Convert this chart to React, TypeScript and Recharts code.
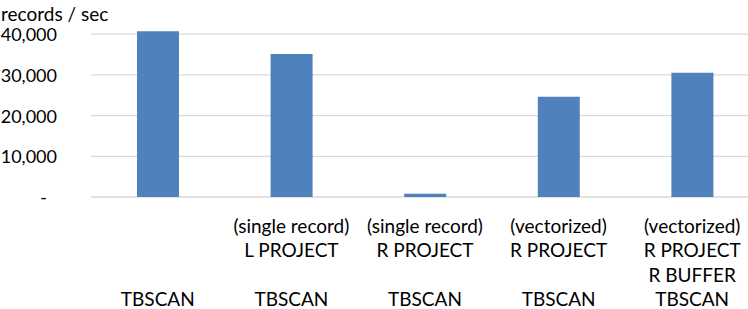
import { Bar, BarChart, CartesianGrid, XAxis, YAxis } from "recharts";

// each label has 4 slots, TBSCAN always sits in the last one
const categories = [
  "\n\n\nTBSCAN",
  "(single record)\nL PROJECT\n\nTBSCAN",
  "(single record)\nR PROJECT\n\nTBSCAN",
  "(vectorized)\nR PROJECT\n\nTBSCAN",
  "(vectorized)\nR PROJECT\nR BUFFER\nTBSCAN",
];
const recordsPerSec = [40700, 35100, 800, 24600, 30500];
const yTicks = [0, 10000, 20000, 30000, 40000];

const chartData = categories.map((name, i) => ({ name, value: recordsPerSec[i] }));

const FONT = "Lato, 'Open Sans', sans-serif";
const TEXT = "#000000";

function YTick(props: any) {
  const { y, payload } = props;
  const isZero = payload.value === 0;
  return (
    <text
      x={isZero ? 47 : 57}
      y={y}
      textAnchor="end"
      dominantBaseline="central"
      fontFamily={FONT}
      fontSize={18}
      fill={TEXT}
    >
      {isZero ? "-" : payload.value.toLocaleString("en-US")}
    </text>
  );
}

function XTick(props: any) {
  const { x, payload } = props;
  const lines = String(payload.value).split("\n");
  return (
    <g>
      {lines.map((line: string, i: number) =>
        line ? (
          <text
            key={i}
            x={x}
            y={225 + i * 24.5}
            textAnchor="middle"
            dominantBaseline="central"
            fontFamily={FONT}
            fontSize={19}
            fill={TEXT}
          >
            {line}
          </text>
        ) : null
      )}
    </g>
  );
}

export default function App() {
  return (
    <div
      style={{
        position: "absolute",
        left: 0,
        top: 0,
        width: 748,
        height: 309,
        overflow: "hidden",
        background: "#fff",
      }}
    >
      <div
        style={{
          position: "absolute",
          left: 1,
          top: 2,
          fontFamily: FONT,
          fontSize: 19,
          lineHeight: "24px",
          color: TEXT,
          whiteSpace: "nowrap",
        }}
      >
        records / sec
      </div>
      <BarChart
        width={759}
        height={309}
        data={chartData}
        margin={{ top: 13.8, right: 0, bottom: 0, left: 0 }}
        barCategoryGap={0}
      >
        <CartesianGrid vertical={false} syncWithTicks stroke="#d9d9d9" strokeWidth={1.3} />
        <XAxis
          dataKey="name"
          height={112}
          interval={0}
          tickLine={false}
          axisLine={false}
          tick={<XTick />}
        />
        <YAxis
          width={91}
          domain={[0, 45000]}
          ticks={yTicks}
          tickLine={false}
          axisLine={false}
          tick={<YTick />}
        />
        <Bar dataKey="value" fill="#4f81bd" barSize={42} isAnimationActive={false} />
      </BarChart>
    </div>
  );
}
